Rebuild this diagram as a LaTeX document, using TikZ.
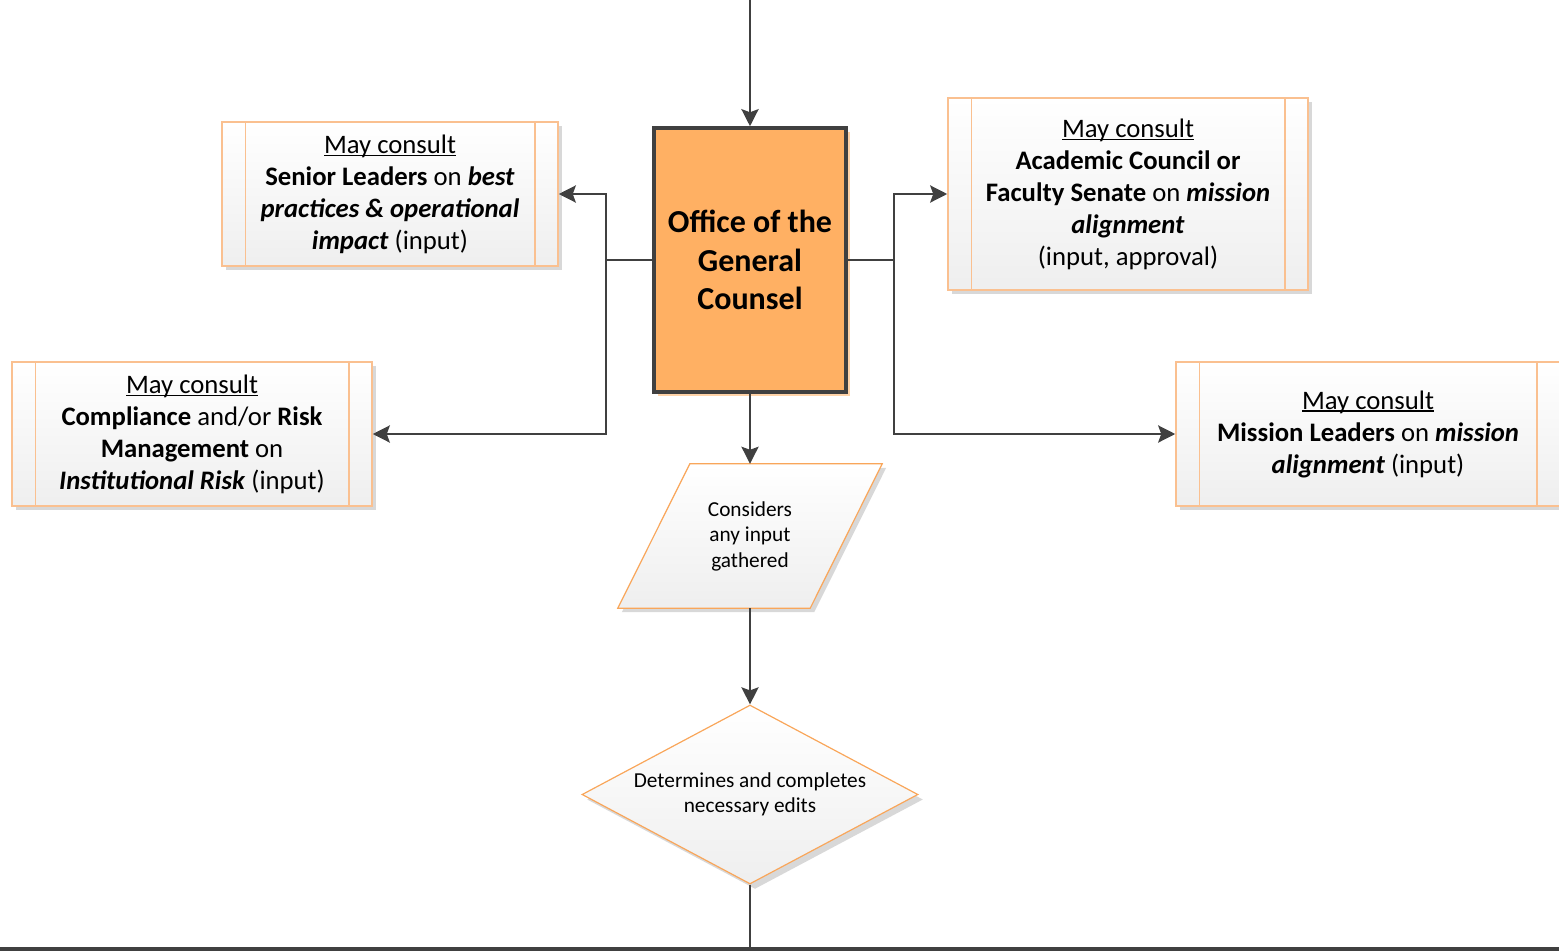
\documentclass[tikz,border=0pt]{standalone}
\usepackage{fontspec}
\setmainfont{Carlito}
\usetikzlibrary{arrows.meta,shapes.geometric,shadows}
\newsavebox\myulbox
\newcommand\myuline[1]{\sbox\myulbox{#1}\rlap{\rule[-2.8pt]{\wd\myulbox}{1.4pt}}\usebox\myulbox}
\definecolor{linecol}{HTML}{404040}
\definecolor{boxborder}{HTML}{FAC090}
\definecolor{shapeborder}{HTML}{F9A65A}
\definecolor{officefill}{HTML}{FFB063}
\definecolor{officeshadow}{HTML}{FFD3A8}
\definecolor{shadowgray}{HTML}{D8D8D8}
\tikzset{
  conn/.style={draw=linecol, line width=2.8pt},
  arr/.style={conn, -{Stealth[length=17pt,width=17pt,inset=3pt]}},
  consultbox/.style={rectangle, draw=boxborder, line width=1.5pt, top color=white, bottom color=gray!13,
    inner sep=0pt, align=center, font=\fontsize{26.7}{32}\selectfont,
    drop shadow={shadow xshift=4pt, shadow yshift=-4pt, fill=shadowgray, opacity=1}},
  boxline/.style={draw=boxborder, line width=1.5pt},
  officebox/.style={rectangle, draw=linecol, line width=3.5pt, fill=officefill, inner sep=0pt,
    minimum width=192pt, minimum height=264pt, align=center,
    font=\fontsize{32}{38.5}\selectfont\bfseries,
    drop shadow={shadow xshift=4pt, shadow yshift=-4pt, fill=officeshadow, opacity=1}},
  smalltext/.style={align=center, font=\fontsize{21.3}{25.5}\selectfont, inner sep=0pt},
}
\begin{document}
\begin{tikzpicture}[x=1pt,y=-1pt]
\useasboundingbox (0,0) rectangle (1559,951);
% consult boxes
\node[consultbox, minimum width=336pt, minimum height=144pt] (senior) at (390,194)
  {\myuline{May consult}\\ \textbf{Senior Leaders} on \textbf{\textit{best}}\\ \textbf{\textit{practices \& operational}}\\ \textbf{\textit{impact}} (input)};
\node[consultbox, minimum width=360pt, minimum height=144pt] (compl) at (192,434)
  {\myuline{May consult}\\ \textbf{Compliance} and/or \textbf{Risk}\\ \textbf{Management} on\\ \textbf{\textit{Institutional Risk}} (input)};
\node[consultbox, minimum width=360pt, minimum height=192pt] (acad) at (1128,194)
  {\myuline{May consult}\\ \textbf{Academic Council or}\\ \textbf{Faculty Senate} on \textbf{\textit{mission}}\\ \textbf{\textit{alignment}}\\ (input, approval)};
\node[consultbox, minimum width=384pt, minimum height=144pt] (mission) at (1368,434)
  {\myuline{May consult}\\ \textbf{Mission Leaders} on \textbf{\textit{mission}}\\ \textbf{\textit{alignment}} (input)};
\foreach \b in {senior,compl,acad,mission}{
  \draw[boxline] ([xshift=24pt]\b.north west) -- ([xshift=24pt]\b.south west);
  \draw[boxline] ([xshift=-24pt]\b.north east) -- ([xshift=-24pt]\b.south east);
}
% office
\node[officebox] (office) at (750,260) {Office of the\\ General\\ Counsel};
% parallelogram
\node[smalltext, minimum width=192pt, minimum height=144pt] (consider) at (750,536) {};
\fill[shadowgray] ([xshift=40pt,yshift=-4pt]consider.north west) -- ([xshift=40pt,yshift=-4pt]consider.north east) -- ([xshift=-32pt,yshift=-4pt]consider.south east) -- ([xshift=-32pt,yshift=-4pt]consider.south west) -- cycle;
\shade[top color=white, bottom color=gray!13, draw=shapeborder, line width=1.2pt]
  ([xshift=36pt]consider.north west) -- ([xshift=36pt]consider.north east) -- ([xshift=-36pt]consider.south east) -- ([xshift=-36pt]consider.south west) -- cycle;
\node[smalltext] at (consider) {Considers\\ any input\\ gathered};
% diamond
\node[diamond, draw=shapeborder, line width=1.2pt, top color=white, bottom color=gray!13,
  minimum width=336pt, minimum height=179pt, inner sep=0pt, aspect=1.88,
  drop shadow={shadow xshift=5pt, shadow yshift=-5pt, fill=shadowgray, opacity=1},
  smalltext] (decide) at (750,794.5) {Determines and completes\\ necessary edits};
% coordinates
\coordinate (top) at (750,0);
\coordinate (lj) at (606,260);
\coordinate (rj) at (894,260);
\coordinate (bm) at (750,949);
\coordinate (bl) at (0,949);
\coordinate (br) at (1559,949);
% connectors
\draw[arr] (top) -- (office.north);
\draw[conn] (office.west) -- (lj);
\draw[arr] (lj) |- (senior.east);
\draw[arr] (lj) |- (compl.east);
\draw[conn] (office.east) -- (rj);
\draw[arr] (rj) |- (acad.west);
\draw[arr] (rj) |- (mission.west);
\draw[arr] (office.south) -- (consider.north);
\draw[arr] (consider.south) -- (decide.north);
\draw[conn] (decide.south) -- (bm);
\draw[conn, line width=3.2pt] (bl) -- (br);
\end{tikzpicture}
\end{document}
